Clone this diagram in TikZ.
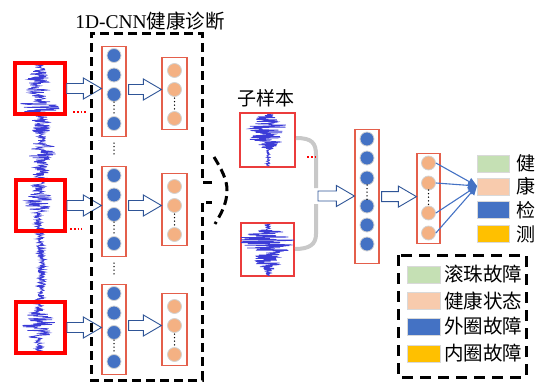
\documentclass[tikz,border=0pt]{standalone}
\usepackage{fontspec}
\setmainfont{Liberation Serif}
\newfontfamily\cjk{Noto Sans CJK SC}
\usetikzlibrary{calc,arrows.meta}
\definecolor{wblue}{RGB}{60,60,215}
\definecolor{nblue}{RGB}{68,114,196}
\definecolor{norange}{RGB}{244,177,131}
\definecolor{colred}{RGB}{228,95,75}
\definecolor{arrblue}{RGB}{47,85,151}
\definecolor{lgreen}{RGB}{197,224,180}
\definecolor{lpeach}{RGB}{248,203,173}
\definecolor{lyellow}{RGB}{255,192,0}
\definecolor{bracegray}{RGB}{200,200,200}
\definecolor{subred}{RGB}{235,60,60}
\newcommand\bcolumn[3]{%
  \node[colbox, minimum height=90, anchor=north] (#1) at (#2,#3) {};
  \foreach \k/\d in {1/9.5,2/29,3/48.5,4/77.5} \node[bdot] (#1-\k) at (#2,#3+\d) {};
  \draw[vdots] (#2,#3+56) -- (#2,#3+70);
}
\newcommand\ocolumn[3]{%
  \node[colbox, minimum width=25, minimum height=72, anchor=north] (#1) at (#2,#3) {};
  \foreach \k/\d in {1/13.5,2/32.5,3/61.5} \node[odot] (#1-\k) at (#2,#3+\d) {};
  \draw[vdots] (#2,#3+41) -- (#2,#3+54);
}
\begin{document}
\begin{tikzpicture}[x=1pt,y=-1pt,
  redbox/.style={draw=red, line width=4, inner sep=0, minimum width=50, minimum height=51},
  subbox/.style={draw=subred, line width=2, inner sep=0},
  colbox/.style={draw=colred, line width=1.2, inner sep=0, minimum width=24},
  bdot/.style={circle, fill=nblue, draw=gray!35, line width=0.8, minimum size=14, inner sep=0},
  odot/.style={circle, fill=norange, draw=gray!35, line width=0.8, minimum size=14, inner sep=0},
  vdots/.style={line width=1.5, line cap=round, dash pattern=on 0pt off 3.6pt},
  reddots/.style={draw=red, line width=1.5, dash pattern=on 1.8pt off 2pt},
  wave/.style={draw=wblue, line width=0.7},
  bigdash/.style={draw=black, line width=3, dash pattern=on 9pt off 5pt},
  hollow/.style={draw=arrblue, line width=0.9, fill=white,
    to path={let \p1=(\tikztostart), \p2=(\tikztotarget) in
      (\x1,\y1+5pt) -- (\x2-18pt,\y1+5pt) -- (\x2-18pt,\y1+10.5pt) -- (\x2,\y1)
      -- (\x2-18pt,\y1-10.5pt) -- (\x2-18pt,\y1-5pt) -- (\x1,\y1-5pt) -- cycle}},
  conn/.style={draw=nblue, line width=1.1, -{Triangle[length=9pt,width=8pt]}},
  legsq/.style={draw=gray!30, line width=0.8, minimum width=32, minimum height=17, inner sep=0},
  cjktext/.style={font=\cjk\fontsize{19}{19}\selectfont, inner sep=0}
]
\useasboundingbox (0,0) rectangle (536,383);
\pgfmathsetseed{7}

% title
\node[font=\fontsize{19.5}{19.5}\selectfont, inner sep=0] (title) at (150,21) {1D-CNN{\cjk 健康诊断}};

% long waveform
\draw[wave] plot[samples=620, domain=63:352, variable=\t]
  ({40 + 2*sin(\t*3) + (4 + 19*max(0,1-((\t-107)/7)^2) + 7*max(0,1-((\t-85)/20)^2)
    + 6*max(0,1-((\t-125)/12)^2) + 11*max(0,1-((\t-152)/11)^2)
    + 5*max(0,1-((\t-180)/25)^2) + 11*max(0,1-((\t-203)/10)^2)
    + 15*max(0,1-((\t-325)/14)^2))*rand}, \t);

% red boxes
\node[redbox] (b1) at (39.7,88.5) {};
\node[redbox, minimum width=49] (b2) at (40.5,205.5) {};
\node[redbox, minimum width=49] (b3) at (40.5,327.5) {};
\draw[reddots] (73,112) -- (86,112);
\draw[reddots] (70,229) -- (82,229);

% columns
\bcolumn{c1}{114}{46}
\bcolumn{c2}{114}{166}
\bcolumn{c3}{114}{284}
\ocolumn{o1}{174.5}{57}
\ocolumn{o2}{174.5}{173}
\ocolumn{o3}{174.5}{293}
\draw[vdots] (114,143) -- (114,157);
\draw[vdots] (114,263) -- (114,277);

% hollow arrows
\draw[hollow] (b1.east) to (c1.west);
\draw[hollow] (b2.east) to (c2.west);
\draw[hollow] (b3.east) to (c3.west);
\draw[hollow] ($(c1.east |- o1-2)+(2,0)$) to (o1.west);
\draw[hollow] ($(c2.east |- o2-2)+(2,0)$) to (o2.west);
\draw[hollow] ($(c3.east |- o3-2)+(2,0)$) to (o3.west);

% dashed box
\draw[bigdash] (212,182) -- (202,182) -- (202,33) -- (91,33) -- (91,380) -- (202,380) -- (202,202) -- (212,202);
\draw[bigdash] (214,157) .. controls (222,170) and (227,180) .. (227,190) .. controls (227,205) and (220,215) .. (215,224);

% sub samples
\node[cjktext] (sublabel) at (266,98) {子样本};
\node[subbox, minimum width=55, minimum height=54] (s1) at (267.5,140) {};
\node[subbox, minimum width=53, minimum height=53] (s2) at (267.5,249.5) {};
\begin{scope}
  \clip (241,114) rectangle (294,166);
  \draw[wave] plot[samples=170, domain=114:166, variable=\t]
   ({268 + (1.5 + 18*max(0,1-((\t-128)/15)^2) + 10*max(0,1-((\t-142)/8)^2))*rand}, \t);
\end{scope}
\begin{scope}
  \clip (241,224) rectangle (294,275);
  \draw[wave] plot[samples=170, domain=224:276, variable=\t]
   ({268 + (2 + 30*max(0,1-((\t-241)/12)^2) + 12*max(0,1-((\t-258)/14)^2))*rand}, \t);
\end{scope}
\draw[draw=bracegray, line width=4] (s1.east |- 0,138) .. controls (312,138) and (316,143) .. (316,155) -- (316,188);
\draw[draw=bracegray, line width=4] (316,204) -- (316,234) .. controls (316,244) and (310,249) .. (s2.east |- 0,249);
\draw[reddots] (307,157) -- (318,157);
\coordinate (bj) at (318,196);

% middle column
\node[colbox, minimum height=134, anchor=north] (m) at (367,129) {};
\foreach \k/\d in {1/10,2/29,3/49,4/77,5/96,6/115} \node[bdot] (m-\k) at (367,129+\d) {};
\draw[vdots] (367,185) -- (367,200);
\draw[hollow] (bj) to (m.west);

% final column
\node[colbox, minimum width=23, minimum height=90, anchor=north] (f) at (428.5,153) {};
\foreach \k/\d in {1/10,2/30,3/60,4/80} \node[odot] (f-\k) at (428.5,153+\d) {};
\draw[vdots] (428.5,190) -- (428.5,205);
\draw[hollow] ($(m.east)+(2,0)$) to (f.west);
\coordinate (tip) at (477,186);
\foreach \k in {1,...,4} \draw[conn] (f-\k.east) -- (tip);

% legend 1
\node[legsq, fill=lgreen] (l1) at (493,163.5) {};
\node[legsq, fill=lpeach] (l2) at (493,186.5) {};
\node[legsq, fill=nblue] (l3) at (493,210) {};
\node[legsq, fill=lyellow] (l4) at (493,234) {};
\node[cjktext] (t1) at (526,163.5) {健};
\node[cjktext] (t2) at (526,186.5) {康};
\node[cjktext] (t3) at (526,210) {检};
\node[cjktext] (t4) at (526,234) {测};

% legend 2
\draw[bigdash, dash pattern=on 11pt off 7pt] (398,255) rectangle (526,377);
\node[legsq, minimum width=33, fill=lgreen] (k1) at (423.5,274.5) {};
\node[legsq, minimum width=33, fill=lpeach] (k2) at (423.5,301) {};
\node[legsq, minimum width=33, fill=nblue] (k3) at (423.5,326.5) {};
\node[legsq, minimum width=33, fill=lyellow] (k4) at (423.5,353.5) {};
\node[cjktext, font=\cjk\fontsize{19.5}{19.5}\selectfont] (u1) at (483,274.5) {滚珠故障};
\node[cjktext, font=\cjk\fontsize{19.5}{19.5}\selectfont] (u2) at (483,301) {健康状态};
\node[cjktext, font=\cjk\fontsize{19.5}{19.5}\selectfont] (u3) at (483,326.5) {外圈故障};
\node[cjktext, font=\cjk\fontsize{19.5}{19.5}\selectfont] (u4) at (483,353.5) {内圈故障};
\end{tikzpicture}
\end{document}
